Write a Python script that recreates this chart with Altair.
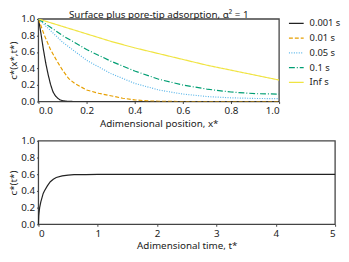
import altair as alt
import pandas as pd

series_names = ["0.001 s", "0.01 s", "0.05 s", "0.1 s", "Inf s"]

x_001 = [0.0, 0.01, 0.02, 0.03, 0.04, 0.05, 0.06, 0.07, 0.08, 0.09, 0.10, 0.12, 0.15, 0.3, 1.0]
c_001 = [1.0, 0.83, 0.64, 0.47, 0.33, 0.21, 0.12, 0.07, 0.04, 0.02, 0.01, 0.002, 0.0, 0.0, 0.0]

x_01 = [0.0, 0.025, 0.05, 0.075, 0.1, 0.125, 0.15, 0.2, 0.25, 0.3, 0.35, 0.4, 0.45, 0.5, 0.6, 1.0]
c_01 = [1.0, 0.80, 0.63, 0.50, 0.38, 0.28, 0.22, 0.14, 0.10, 0.07, 0.04, 0.02, 0.008, 0.003, 0.0, 0.0]

x_05 = [0.0, 0.05, 0.1, 0.2, 0.3, 0.4, 0.5, 0.6, 0.7, 0.8, 0.9, 1.0]
c_05 = [1.0, 0.86, 0.72, 0.50, 0.34, 0.22, 0.14, 0.09, 0.06, 0.045, 0.037, 0.035]

x_1 = [0.0, 0.05, 0.1, 0.2, 0.3, 0.4, 0.5, 0.6, 0.7, 0.8, 0.9, 1.0]
c_1 = [1.0, 0.90, 0.80, 0.63, 0.49, 0.37, 0.27, 0.20, 0.15, 0.115, 0.095, 0.09]

x_inf = [0.0, 0.1, 0.2, 0.3, 0.4, 0.5, 0.6, 0.7, 0.8, 0.9, 1.0]
c_inf = [1.0, 0.91, 0.82, 0.73, 0.65, 0.58, 0.51, 0.44, 0.38, 0.32, 0.26]

t_vals = [0.0, 0.005, 0.01, 0.02, 0.04, 0.06, 0.08, 0.1, 0.15, 0.2, 0.25, 0.3, 0.4, 0.5, 0.6, 0.8, 1.0, 2.0, 5.0]
ct_vals = [0.0, 0.10, 0.14, 0.20, 0.27, 0.32, 0.37, 0.40, 0.46, 0.51, 0.54, 0.56, 0.58, 0.59, 0.594, 0.596, 0.597, 0.597, 0.597]

x_domain_top = [0, 1]
t_domain = [0, 5]
y_domain = [0, 1]
x_ticks_top = [0, 0.2, 0.4, 0.6, 0.8, 1.0]
t_ticks = [0, 1, 2, 3, 4, 5]
y_ticks = [0, 0.2, 0.4, 0.6, 0.8, 1.0]

colors = ["#222222", "#E69F00", "#56B4E9", "#009E73", "#F0E442"]
dashes = [[1, 0], [4, 2], [1, 1.5], [6, 2, 1, 2], [1, 0]]

rows = []
for name, xs, cs in zip(series_names,
                        [x_001, x_01, x_05, x_1, x_inf],
                        [c_001, c_01, c_05, c_1, c_inf]):
    for i, (xv, cv) in enumerate(zip(xs, cs)):
        rows.append({"series": name, "x": xv, "c": cv, "order": i})
prof = pd.DataFrame(rows)
tdf = pd.DataFrame({"t": t_vals, "c": ct_vals})

FONT = "Noto Sans"
FRAME = "#444444"
axis_common = dict(labelFont=FONT, titleFont=FONT, labelFontSize=10, titleFontSize=10,
                   titleFontWeight="normal", labelColor="#222", titleColor="#222",
                   grid=False, domain=False, tickSize=2, tickColor=FRAME, labelPadding=2)

x_scale_top = alt.Scale(domain=x_domain_top, nice=False)
x_scale_bot = alt.Scale(domain=t_domain, nice=False)
y_scale = alt.Scale(domain=y_domain, nice=False)

x_axis_top = alt.Axis(values=x_ticks_top, format=".1f", title="Adimensional position, x*",
                      titlePadding=3, **axis_common)
y_axis_top = alt.Axis(values=y_ticks, format=".1f", title="c*(x*,t*)", titlePadding=2, **axis_common)
x_axis_bot = alt.Axis(values=t_ticks, format="d", title="Adimensional time, t*",
                      titlePadding=3, **axis_common)
y_axis_bot = alt.Axis(values=y_ticks, format=".1f", title="c*(t*)", titlePadding=2, **axis_common)


def frame_layer(xs, xdom, xaxis, yaxis):
    # plot-area frame drawn through the same scales as the data
    return alt.Chart().mark_rect(fill=None, stroke=FRAME, strokeWidth=1.3).encode(
        x=alt.X(datum=xdom[0], type="quantitative", scale=xs, axis=xaxis),
        x2=alt.X2(datum=xdom[1]),
        y=alt.Y(datum=y_domain[0], type="quantitative", scale=y_scale, axis=yaxis),
        y2=alt.Y2(datum=y_domain[1]),
    )


top_lines = alt.Chart(prof).mark_line(strokeWidth=1.2, clip=True).encode(
    x=alt.X("x:Q", scale=x_scale_top, axis=x_axis_top),
    y=alt.Y("c:Q", scale=y_scale, axis=y_axis_top),
    color=alt.Color("series:N", scale=alt.Scale(domain=series_names, range=colors), title=None,
                    legend=alt.Legend(orient="none", legendX=254, legendY=-4, labelFont=FONT,
                                      labelFontSize=9.5, symbolType="stroke", symbolSize=225,
                                      symbolStrokeWidth=1.2, rowPadding=2, labelColor="#222",
                                      labelOffset=5)),
    strokeDash=alt.StrokeDash("series:N", scale=alt.Scale(domain=series_names, range=dashes), title=None),
    order="order:Q",
)
top = alt.layer(frame_layer(x_scale_top, x_domain_top, x_axis_top, y_axis_top), top_lines,
                title=alt.TitleParams("Surface plus pore-tip adsorption, α² = 1", font=FONT,
                                      fontSize=10, fontWeight="normal", color="#222", offset=-6)
                ).properties(width=245, height=84)

bot_line = alt.Chart(tdf).mark_line(strokeWidth=1.2, color="#222222").encode(
    x=alt.X("t:Q", scale=x_scale_bot, axis=x_axis_bot),
    y=alt.Y("c:Q", scale=y_scale, axis=y_axis_bot),
)
bottom = alt.layer(frame_layer(x_scale_bot, t_domain, x_axis_bot, y_axis_bot), bot_line
                   ).properties(width=302, height=85)

chart = alt.vconcat(top, bottom, spacing=8, padding=0, background="white").configure_view(
    stroke=None)

chart.save("out.html", embed_options={"renderer": "svg", "actions": False})
